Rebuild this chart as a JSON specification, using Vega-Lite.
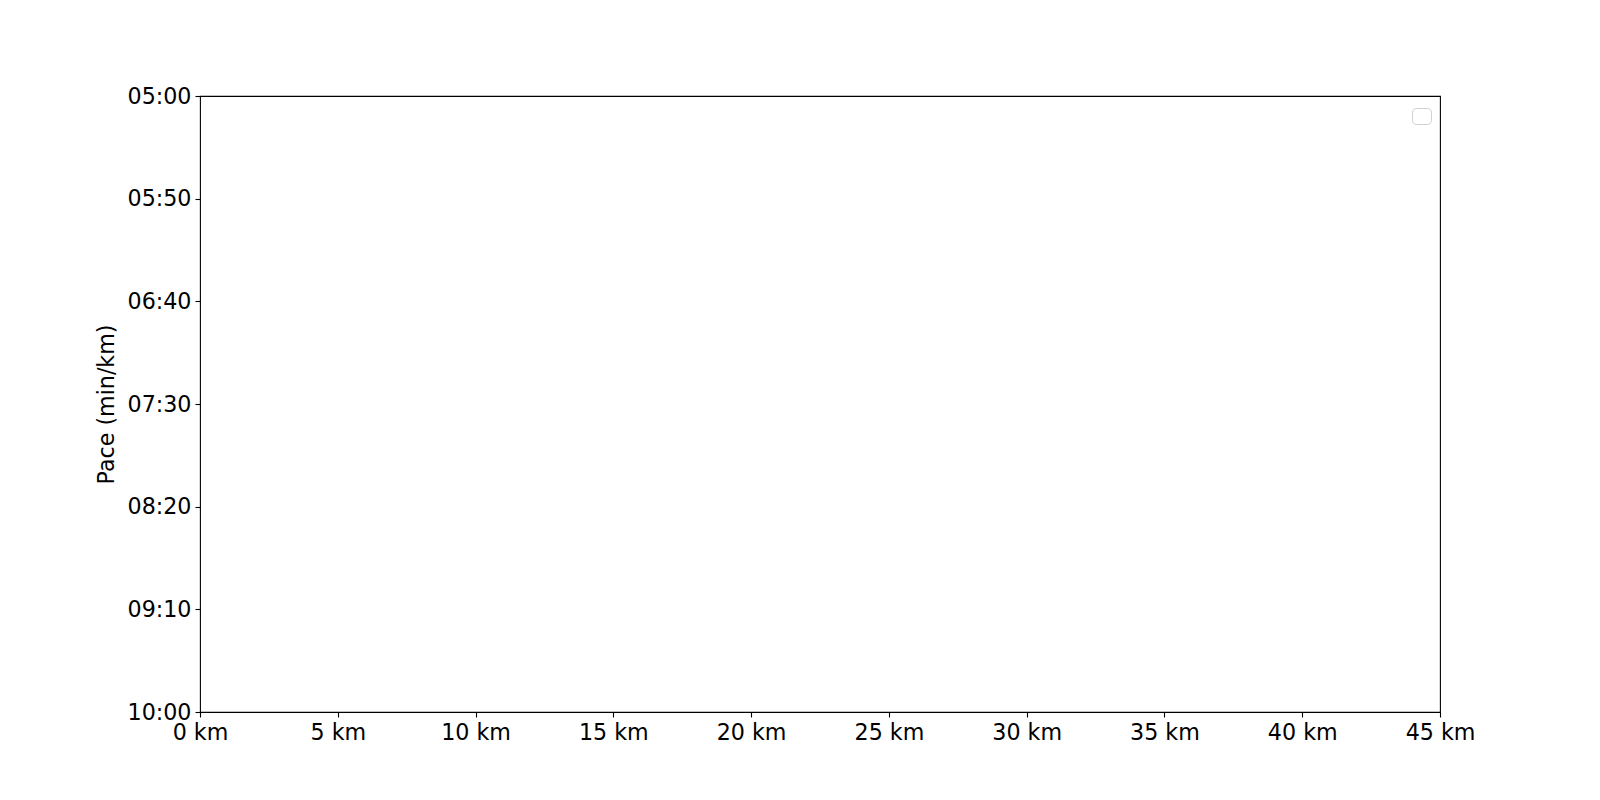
{
  "$schema": "https://vega.github.io/schema/vega-lite/v6.json",
  "autosize": "none",
  "width": 1240,
  "height": 616,
  "padding": {"left": 200, "top": 96, "right": 160, "bottom": 88},
  "background": "white",
  "config": {
    "font": "DejaVu Sans",
    "view": {"stroke": "black", "strokeWidth": 1.1},
    "axis": {
      "grid": false,
      "domain": false,
      "tickColor": "black",
      "tickWidth": 1.1,
      "tickSize": 5,
      "labelFont": "DejaVu Sans",
      "labelFontSize": 22.2,
      "labelColor": "black",
      "labelPadding": 4,
      "titleFont": "DejaVu Sans",
      "titleFontSize": 22.2,
      "titleFontWeight": "normal",
      "titleColor": "black"
    }
  },
  "data": {"values": []},
  "mark": {"type": "line"},
  "encoding": {
    "x": {
      "field": "distance_km",
      "type": "quantitative",
      "scale": {"domain": [0, 45], "nice": false, "zero": false},
      "axis": {
        "title": null,
        "values": [0, 5, 10, 15, 20, 25, 30, 35, 40, 45],
        "labelExpr": "datum.value + ' km'",
        "labelFlush": false,
        "labelOverlap": false
      }
    },
    "y": {
      "field": "pace_s",
      "type": "quantitative",
      "scale": {"domain": [300, 600], "nice": false, "zero": false, "reverse": true},
      "axis": {
        "title": "Pace (min/km)",
        "titlePadding": 9,
        "values": [300, 350, 400, 450, 500, 550, 600],
        "labelExpr": "format(floor(datum.value / 60), '02d') + ':' + format(datum.value % 60, '02d')",
        "labelFlush": false,
        "labelOverlap": false
      }
    },
    "color": {
      "field": "series",
      "type": "nominal",
      "scale": {"domain": [""], "range": ["transparent"]},
      "legend": {
        "title": null,
        "orient": "none",
        "legendX": 1212,
        "legendY": 12,
        "strokeColor": "#d0d0d0",
        "fillColor": "white",
        "cornerRadius": 4,
        "padding": 6,
        "symbolOpacity": 0,
        "symbolSize": 30,
        "labelFontSize": 1,
        "labelOpacity": 0,
        "labelOffset": 0,
        "labelLimit": 1
      }
    }
  }
}
